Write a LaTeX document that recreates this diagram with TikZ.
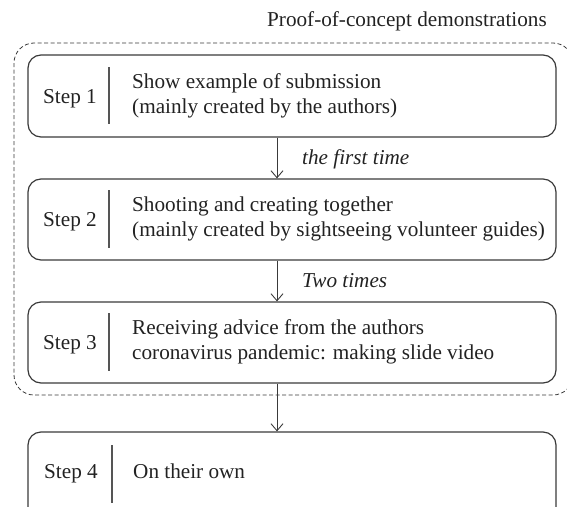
\documentclass[tikz,border=0pt]{standalone}
\usepackage{fontspec}
\setmainfont{Liberation Serif}
\usetikzlibrary{arrows.meta}
\definecolor{linegray}{HTML}{3A3A3A}
\definecolor{divgray}{HTML}{555555}
\definecolor{txt}{HTML}{222222}
\begin{document}
\begin{tikzpicture}[x=1pt,y=-1pt,
  every node/.style={font=\fontsize{21.2}{25}\selectfont, text=txt, inner sep=0pt},
  stepbox/.style={draw=linegray, line width=1.2pt, rounded corners=13pt, minimum width=528pt},
  lbl/.style={anchor=base},
  line/.style={anchor=base west},
  note/.style={anchor=base west, font=\fontsize{21.2}{25}\selectfont\itshape},
  divider/.style={draw=divgray, line width=1.4pt},
  arr/.style={draw=linegray, line width=0.9pt, -{Straight Barb[length=7pt,width=12pt,line width=0.9pt]}},
  group/.style={draw=linegray, line width=0.8pt, dash pattern=on 4pt off 2.5pt, rounded corners=20pt}
]
\useasboundingbox (0,0) rectangle (567,506);
\clip (0,0) rectangle (567,506);

% title
\node[anchor=base east] (title) at (547,27) {Proof-of-concept demonstrations};

% dashed group frame
\draw[group] (14,43) rectangle (573,395);

% boxes
\node[stepbox, minimum height=82pt] (b1) at (292,96) {};
\node[stepbox, minimum height=81pt] (b2) at (292,219.5) {};
\node[stepbox, minimum height=81pt] (b3) at (292,342.5) {};
\node[stepbox, minimum height=100pt] (b4) at (292,482) {};

% step labels
\node[lbl] (s1) at (70,103) {Step 1};
\node[lbl] (s2) at (70,226.5) {Step 2};
\node[lbl] (s3) at (70,349.5) {Step 3};
\node[lbl] (s4) at (71,478) {Step 4};

% dividers
\draw[divider] (109,67) -- (109,124);
\draw[divider] (109,190) -- (109,248);
\draw[divider] (109,313) -- (109,371);
\draw[divider] (112,445) -- (112,503);

% contents
\node[line] (t1a) at (132,88) {Show example of submission};
\node[line] (t1b) at (132,113) {(mainly created by the authors)};
\node[line] (t2a) at (132,211.5) {Shooting and creating together};
\node[line] (t2b) at (132,236.5) {(mainly created by sightseeing volunteer guides)};
\node[line] (t3a) at (132,334.5) {Receiving advice from the authors};
\node[line] (t3b) at (132,359.5) {coronavirus pandemic: making slide video};
\node[line] (t4) at (133,478) {On their own};

% connectors
\draw[arr] ([xshift=-15pt]b1.south) -- ([xshift=-15pt]b2.north);
\draw[arr] ([xshift=-15pt]b2.south) -- ([xshift=-15pt]b3.north);
\draw[arr] ([xshift=-15pt]b3.south) -- ([xshift=-15pt]b4.north);

% arrow labels
\node[note] (n1) at (302,164) {the first time};
\node[note] (n2) at (302,287) {Two times};
\end{tikzpicture}
\end{document}
